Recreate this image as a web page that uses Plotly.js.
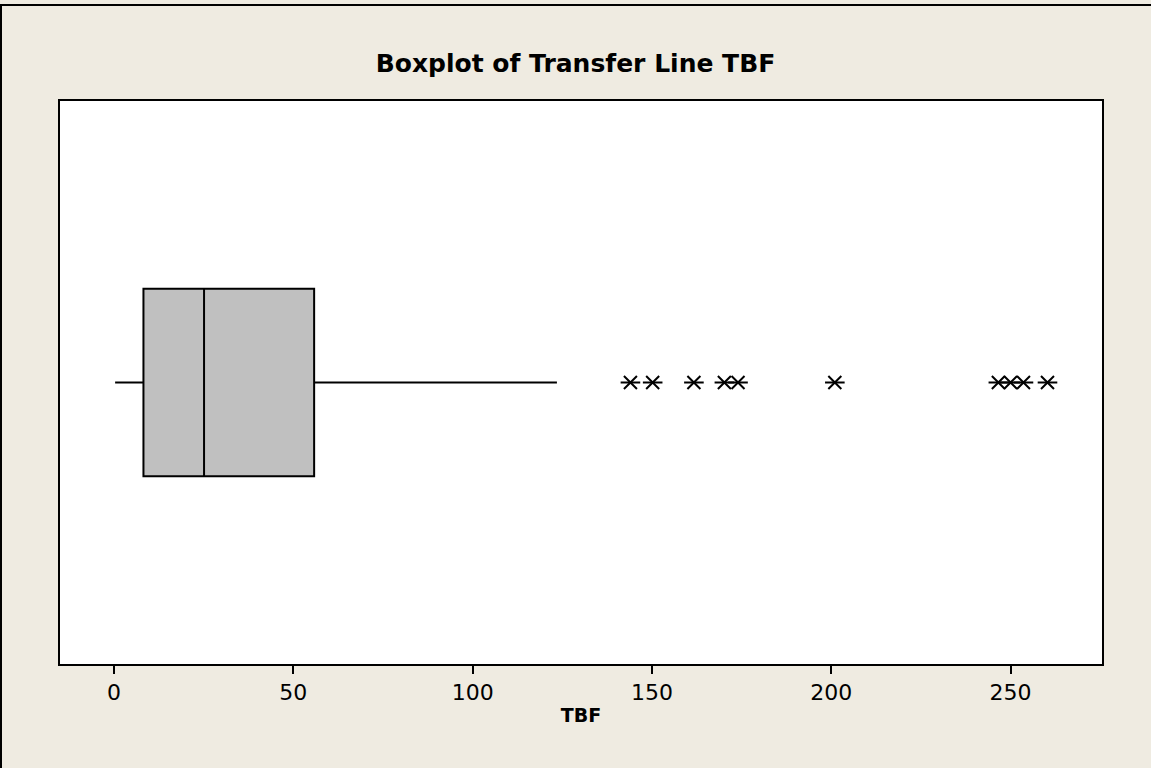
<!DOCTYPE html>
<html>
<head>
<meta charset="utf-8">
<script src="https://cdn.plot.ly/plotly-3.0.1.min.js"></script>
<style>
  html, body { margin: 0; padding: 0; background: #EFEBE1; }
  #wrap { position: relative; width: 1151px; height: 768px; overflow: hidden; }
  #chart { position: absolute; left: 0; top: 0; width: 1151px; height: 768px; }
  #frame { position: absolute; left: 0; top: 4px; width: 1160px; height: 780px;
           border-top: 2px solid #000; border-left: 2px solid #000; pointer-events: none; }
</style>
</head>
<body>
<div id="wrap">
  <div id="chart"></div>
  <div id="frame"></div>
</div>
<script>
// Summary statistics
var seriesName = "TBF";
var q1 = [8.2];
var median = [25.1];
var q3 = [55.8];
var lowerFence = [0.3];
var upperFence = [123.5];
// Outliers
var outliers = [144.0, 150.2, 161.7, 170.2, 174.0, 201.0, 246.6, 250.0, 253.6, 260.3];
var tickVals = [0, 50, 100, 150, 200, 250];
var tickText = ["0", "50", "100", "150", "200", "250"];

var outY = outliers.map(function () { return 0; });

var boxTrace = {
  type: 'box',
  orientation: 'h',
  name: seriesName,
  y: [0],
  q1: q1,
  median: median,
  q3: q3,
  lowerfence: lowerFence,
  upperfence: upperFence,
  boxpoints: false,
  width: 1,
  whiskerwidth: 0,
  fillcolor: '#C0C0C0',
  line: { color: '#000000', width: 2 },
  hoverinfo: 'skip',
  showlegend: false
};

var starX = {
  type: 'scatter', mode: 'markers', x: outliers, y: outY,
  marker: { symbol: 'x-thin-open', size: 13, line: { color: '#000', width: 2 }, color: '#000' },
  hoverinfo: 'skip', showlegend: false, cliponaxis: false
};
var starH = {
  type: 'scatter', mode: 'markers', x: outliers, y: outY,
  marker: { symbol: 'line-ew-open', size: 14, line: { color: '#000', width: 2 }, color: '#000' },
  hoverinfo: 'skip', showlegend: false, cliponaxis: false
};

var layout = {
  width: 1151, height: 768,
  paper_bgcolor: '#EFEBE1',
  plot_bgcolor: '#FFFFFF',
  margin: { l: 60, r: 49, t: 101, b: 104 },
  font: { family: 'DejaVu Sans, sans-serif', color: '#000' },
  title: {
    text: '<b>Boxplot of Transfer Line TBF</b>',
    font: { family: 'DejaVu Sans, sans-serif', size: 25, color: '#000' },
    x: 0.5, xanchor: 'center', y: 1 - 63 / 768, yanchor: 'middle'
  },
  xaxis: {
    range: [-15.07, 275.5],
    tickvals: tickVals, ticktext: tickText,
    ticks: 'outside', ticklen: 8, tickwidth: 2, tickcolor: '#000',
    showline: true, mirror: true, linewidth: 2, linecolor: '#000',
    showgrid: false, zeroline: false,
    tickfont: { family: 'DejaVu Sans, sans-serif', size: 22, color: '#000' },
    title: { text: '<b>TBF</b>', font: { family: 'DejaVu Sans, sans-serif', size: 19, color: '#000' }, standoff: 4 }
  },
  yaxis: {
    range: [-1.5, 1.5],
    showticklabels: false, ticks: '',
    showline: true, mirror: true, linewidth: 2, linecolor: '#000',
    showgrid: false, zeroline: false, fixedrange: true
  },
  showlegend: false
};

Plotly.newPlot('chart', [boxTrace, starX, starH], layout, { displayModeBar: false, staticPlot: true });
</script>
</body>
</html>
